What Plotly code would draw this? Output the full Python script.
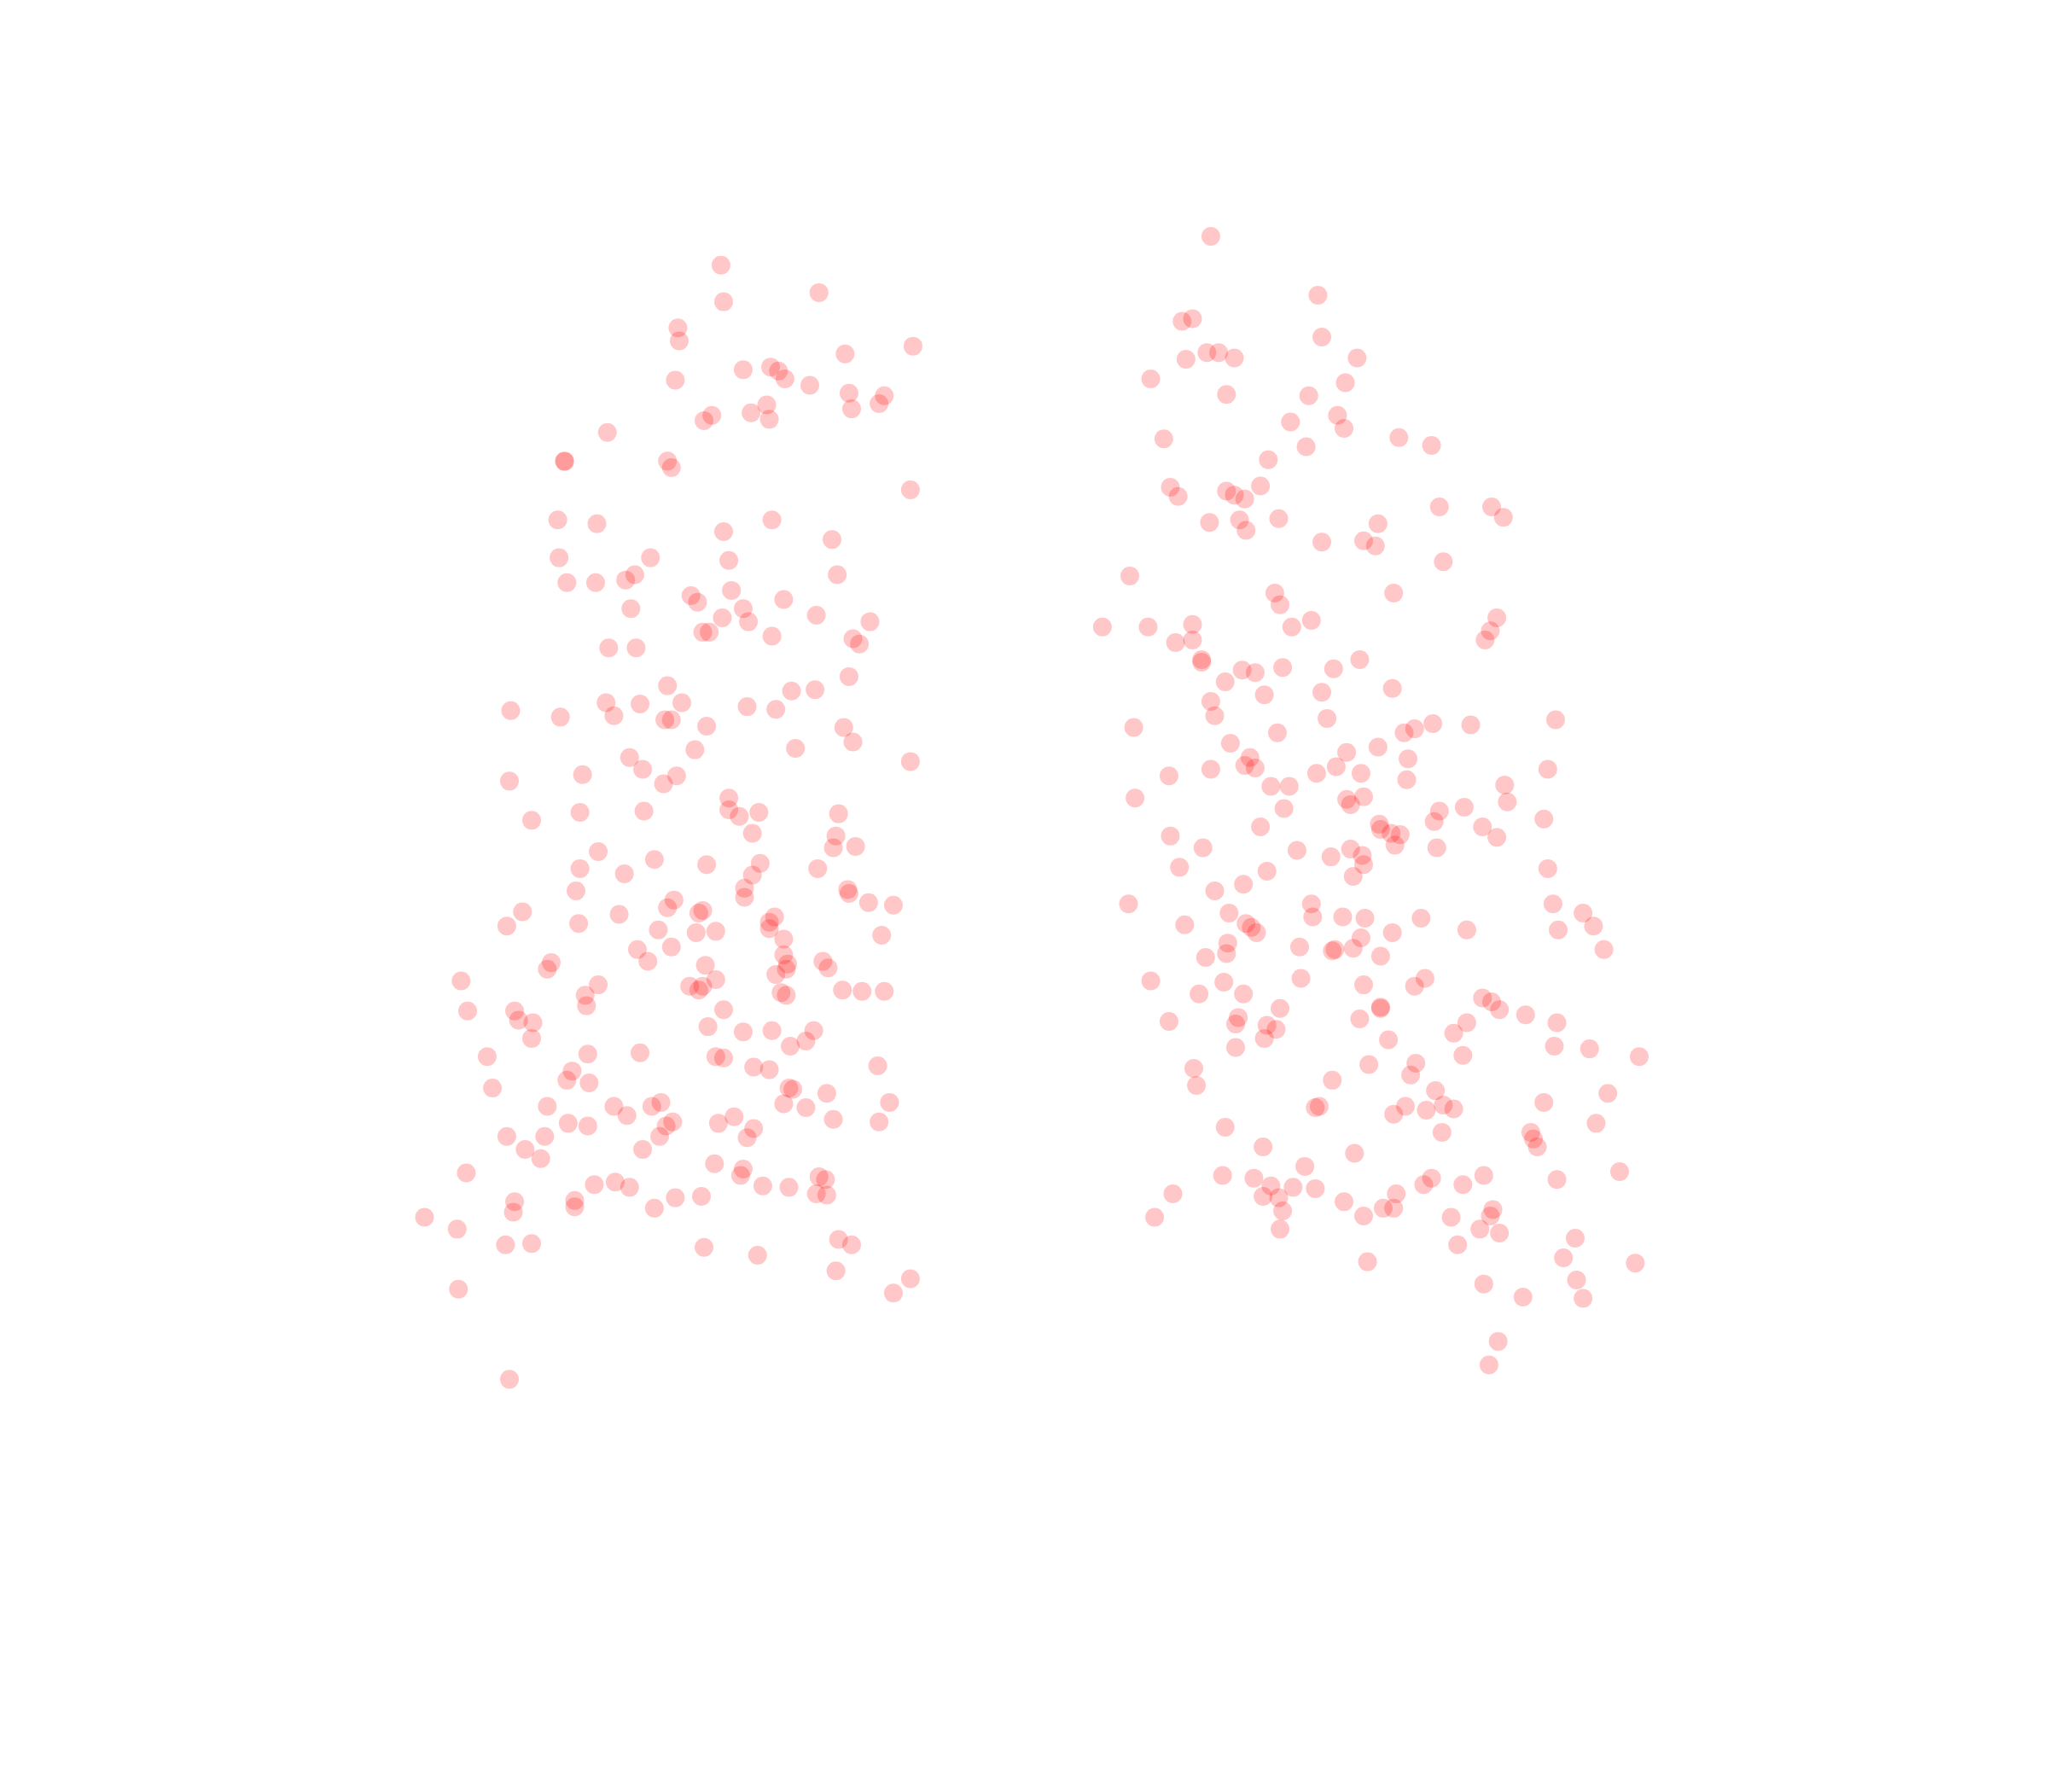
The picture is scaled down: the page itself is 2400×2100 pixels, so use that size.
import plotly.graph_objects as go

left_points = [
(552,203),(627,224),(554,231),(519,251),(520,261),(699,265),(647,271),(590,281),(596,284),(601,290),(569,283),(517,291),(620,295),(650,301),(677,303),(673,309),(652,313),(587,310),(575,316),(589,321),(545,318),(539,322),(465,331),(432,353),(432.4,353.2),(511,353),(514,358),(697,375),(591,398),(427,398),(457,401),(554,407),(637,413),(428,427),(498,427),(558,429),(641,440),(486,440),(479,444),(434,446),(456,446),(560,452),(529,456),(534,461),(600,459),(569,466),(483,466),(553,473),(625,471),(573,476),(666,476),(591,487),(538,484),(543,484),(653,489),(658,493),(466,496),(487,496),(650,518),(511,525),(606,529),(624,528),(464,538),(490,539),(522,538),(572,541),(594,543),(391,544),(429,549),(470,548),(509,551),(514,551),(541,556),(646,557),(653,568),(609,573),(532,574),(482,580),(492,589),(518,594),(508,600),(446,593),(390,598),(697,583),(558,611),(444,622),(493,621),(558,620),(566,625),(581,622),(642,623),(407,628),(576,638),(640,640),(638,649),(655,648),(458,652),(501,658),(444,665),(478,669),(541,662),(582,661),(576,670),(626,665),(441,682),(570,680),(570,687),(649,681),(650,684),(665,691),(684,693),(516,689),(511,695),(400,698),(474,700),(535,699),(538,697),(593,702),(589,706),(589,711),(388,709),(443,707),(504,712),(533,714),(548,713),(675,716),(600,719),(488,727),(514,725),(600,731),(496,736),(422,737),(419,742),(540,739),(630,736),(634,741),(603,738),(602,742),(594,746),(353,751),(458,754),(528,755),(538,755),(535,758),(548,750),(598,760),(602,762),(645,758),(660,759),(677,759),(448,762),(449,770),(554,773),(358,774),(394,774),(397,781),(408,783),(407,795),(542,786),(569,790),(591,789),(623,789),(617,797),(605,801),(373,809),(450,807),(490,806),(548,809),(554,810),(577,817),(589,819),(672,816),(438,820),(434,827),(451,829),(377,833),(604,833),(607,834),(633,837),(681,844),(506,844),(499,847),(470,847),(419,847),(480,854),(600,845),(617,848),(638,857),(562,855),(550,860),(515,859),(510,862),(577,864),(435,860),(450,862),(673,859),(388,870),(417,870),(505,870),(572,871),(402,880),(492,880),(414,887),(547,891),(569,895),(567,900),(357,898),(627,901),(632,903),(455,907),(471,905),(482,909),(584,908),(604,909),(625,914),(633,915),(517,917),(537,916),(394,920),(393,928),(440,919),(440,924),(501,925),(325,932),(350,941),(387,953),(407,952),(539,955),(580,961),(642,949),(652,953),(640,973),(697,979),(684,990),(351,987),(390,1056),
]

right_points = [
(927,181),(1009,226),(905,246),(913,244),(1012,258),(924,270),(933,270),(945,274),(908,275),(1039,274),(881,290),(1030,293),(939,302),(1002,303),(1024,318),(988,323),(1029,328),(891,336),(1071,335),(1096,341),(1000,342),(971,352),(965,372),(896,373),(902,380),(939,376),(945,379),(953,382),(1102,388),(1142,388),(1151,396),(926,400),(949,398),(979,397),(954,406),(1055,401),(1012,415),(1044,414),(1053,418),(1105,430),(865,441),(976,454),(980,463),(1067,454),(1004,475),(989,480),(1146,473),(1141,483),(1137,490),(844,480),(879,480),(913,478),(913,490),(900,492),(920,505),(920,507),(951,513),(961,515),(982,511),(1021,512),(1041,505),(938,522),(1012,530),(1066,527),(968,532),(927,537),(930,548),(1016,550),(1097,554),(1126,555),(1191,551),(1083,558),(1075,561),(868,557),(978,561),(942,569),(1055,572),(1031,576),(957,580),(1078,581),(953,586),(961,588),(927,589),(1023,587),(1008,592),(1042,592),(895,594),(1185,589),(1077,597),(973,602),(987,602),(1152,601),(1044,610),(1031,612),(1034,616),(869,611),(1154,614),(1121,618),(1102,621),(983,619),(1098,629),(1182,627),(1135,633),(1056,631),(1057,635),(965,633),(1065,638),(1072,639),(896,640),(1146,641),(1068,647),(1100,649),(921,649),(993,651),(1034,650),(1019,656),(1043,655),(1044,662),(903,664),(970,667),(1185,665),(1036,671),(952,677),(930,682),(864,692),(1004,692),(1189,692),(941,699),(1212,699),(1005,702),(1028,702),(1045,703),(1088,703),(954,707),(958,710),(962,714),(907,708),(1220,709),(1066,714),(1123,712),(1193,712),(1042,718),(940,722),(939,730),(995,725),(1020,728),(1022,727),(1036,726),(1228,727),(1057,732),(923,733),(937,752),(881,751),(996,749),(1044,754),(1091,749),(1083,755),(918,761),(952,761),(1135,764),(1142,767),(1148,773),(1057,771),(1057,772),(980,772),(1041,780),(1168,777),(948,779),(946,784),(1123,783),(1192,783),(895,782),(970,785),(977,788),(968,795),(1113,791),(1063,796),(1190,801),(946,802),(1217,803),(1120,808),(1255,809),(914,818),(1048,815),(1084,814),(1080,823),(1020,827),(916,831),(1099,835),(1231,837),(1182,844),(1007,848),(1010,847),(1076,847),(1067,853),(1092,850),(1105,846),(1113,849),(1222,860),(938,863),(1104,867),(1172,867),(1174,872),(1177,878),(967,878),(1037,883),(999,893),(1240,897),(936,900),(960,902),(1096,902),(1136,900),(1192,903),(1090,907),(1120,907),(973,908),(990,909),(1007,910),(967,916),(979,917),(898,914),(1069,914),(1029,920),(1059,925),(1067,925),(982,927),(1044,931),(1111,932),(884,932),(1143,926),(1141,931),(1133,941),(980,941),(1148,944),(1206,948),(1116,953),(1197,963),(1047,966),(1252,967),(1207,980),(1136,983),(1166,993),(1212,994),(1147,1027),(1140,1045),
]

points = left_points + right_points
x_values = [p[0] for p in points]
y_values = [p[1] for p in points]

fig = go.Figure(go.Scatter(
    x=x_values, y=y_values, mode="markers",
    marker=dict(size=22, color="rgba(255,0,0,0.22)", line=dict(width=0)),
    showlegend=False, cliponaxis=False,
))
fig.update_layout(
    width=2400, height=2100, autosize=False,
    margin=dict(l=0, r=0, t=0, b=0),
    paper_bgcolor="white", plot_bgcolor="white",
    xaxis=dict(range=[5.2, 1573.2], visible=False),
    yaxis=dict(range=[1377.2, 5.2], visible=False),
)
fig.write_html("out.html")
